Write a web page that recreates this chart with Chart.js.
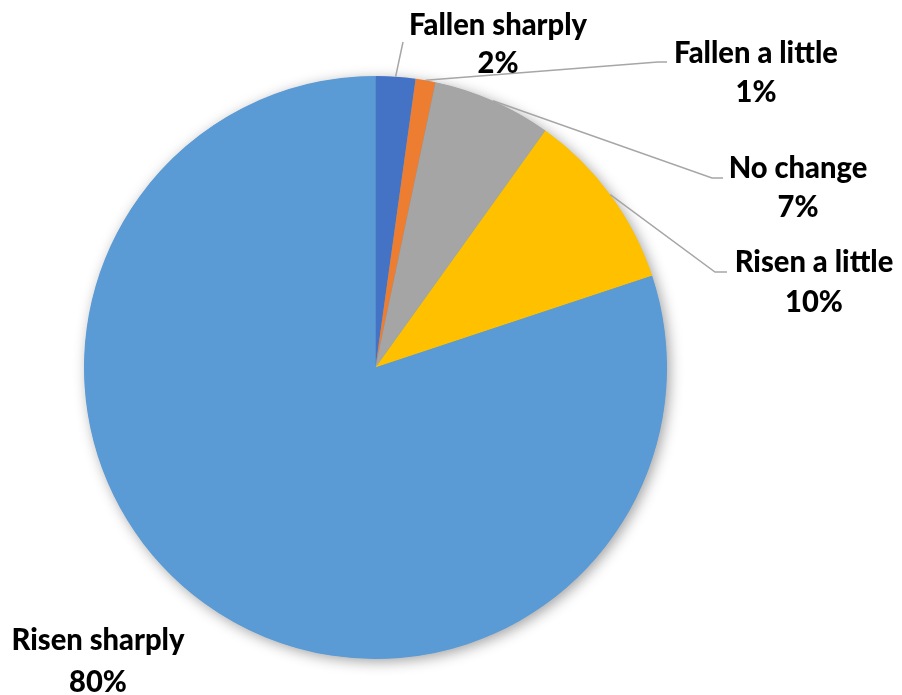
<!DOCTYPE html>
<html>
<head>
<meta charset="utf-8">
<script src="https://cdn.jsdelivr.net/npm/chart.js@4.4.1/dist/chart.umd.min.js"></script>
<style>
  html, body { margin: 0; padding: 0; background: #ffffff; }
  #wrap { width: 902px; height: 695px; }
</style>
</head>
<body>
<div id="wrap"><canvas id="c" width="902" height="695"></canvas></div>
<script>
// ---- data ----
const categories = ["Fallen sharply", "Fallen a little", "No change", "Risen a little", "Risen sharply"];
const values = [2.2, 1.1, 6.6, 10.0, 80.1];
const percentLabels = ["2%", "1%", "7%", "10%", "80%"];
const colors = ["#4472C4", "#ED7D31", "#A5A5A5", "#FFC000", "#5B9BD5"];

// ---- label layout (positions of the data label text and leader line elbows) ----
const labelLayout = [
  { cx: 498, y1: 35, y2: 73, elbow: [403, 42], end: null },
  { cx: 756, y1: 63, y2: 102, elbow: [658, 62], end: [667, 62] },
  { cx: 798, y1: 178, y2: 217, elbow: [712, 178], end: [723, 178] },
  { cx: 814, y1: 272, y2: 312, elbow: [715, 272], end: [727, 272] },
  { cx: 98, y1: 650, y2: 692, elbow: null, end: null }
];

const FONT = '900 30px Lato, "Open Sans", "Liberation Sans", sans-serif';

const shadowPlugin = {
  id: 'pieShadow',
  beforeDatasetsDraw(chart) {
    const meta = chart.getDatasetMeta(0);
    if (!meta.data.length) return;
    const a = meta.data[0];
    const ctx = chart.ctx;
    ctx.save();
    ctx.shadowColor = 'rgba(0,0,0,0.38)';
    ctx.shadowBlur = 14;
    ctx.shadowOffsetX = 3;
    ctx.shadowOffsetY = 3;
    ctx.fillStyle = '#5B9BD5';
    ctx.beginPath();
    ctx.arc(a.x, a.y, a.outerRadius - 0.5, 0, Math.PI * 2);
    ctx.fill();
    ctx.restore();
  }
};

const labelPlugin = {
  id: 'pieLabels',
  afterDatasetsDraw(chart) {
    const meta = chart.getDatasetMeta(0);
    const ctx = chart.ctx;
    ctx.save();
    // leader lines
    ctx.strokeStyle = '#A6A6A6';
    ctx.lineWidth = 1.5;
    meta.data.forEach((arc, i) => {
      const L = labelLayout[i];
      if (!L.elbow) return;
      const mid = (arc.startAngle + arc.endAngle) / 2;
      const sx = arc.x + Math.cos(mid) * arc.outerRadius;
      const sy = arc.y + Math.sin(mid) * arc.outerRadius;
      ctx.beginPath();
      ctx.moveTo(sx, sy);
      ctx.lineTo(L.elbow[0], L.elbow[1]);
      if (L.end) ctx.lineTo(L.end[0], L.end[1]);
      ctx.stroke();
    });
    // text
    ctx.font = FONT;
    ctx.fillStyle = '#000000';
    ctx.textAlign = 'center';
    ctx.textBaseline = 'alphabetic';
    const ref = ctx.measureText('Risen sharply').width;
    const sx = 173 / ref;
    meta.data.forEach((arc, i) => {
      const L = labelLayout[i];
      [[categories[i], L.y1], [percentLabels[i], L.y2]].forEach(([t, y]) => {
        ctx.save();
        ctx.translate(L.cx, y);
        ctx.scale(sx, 1);
        ctx.fillText(t, 0, 0);
        ctx.restore();
      });
    });
    ctx.restore();
  }
};

new Chart(document.getElementById('c'), {
  type: 'pie',
  data: {
    labels: categories,
    datasets: [{
      data: values,
      backgroundColor: colors,
      borderWidth: 0,
      hoverOffset: 0
    }]
  },
  options: {
    responsive: false,
    devicePixelRatio: 1,
    animation: false,
    layout: { padding: { top: 76, bottom: 36, left: 84, right: 235 } },
    plugins: {
      legend: { display: false },
      tooltip: { enabled: false }
    }
  },
  plugins: [shadowPlugin, labelPlugin]
});
</script>
</body>
</html>
